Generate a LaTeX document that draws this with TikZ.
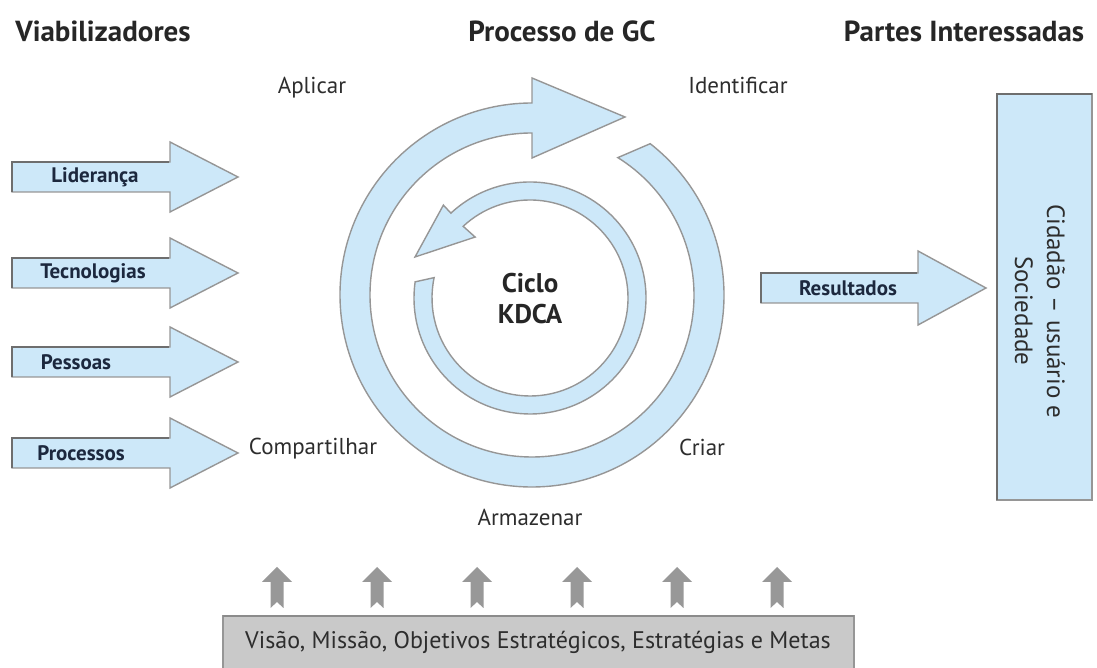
\documentclass[tikz,border=0pt]{standalone}
\usepackage{fontspec}
\setmainfont{PT Sans}
\definecolor{paleblue}{RGB}{205,232,249}
\definecolor{edgegray}{RGB}{150,150,150}
\definecolor{shadegray}{RGB}{110,110,110}
\definecolor{pointergray}{RGB}{152,152,152}
\definecolor{basegray}{RGB}{201,201,201}
\definecolor{inktext}{RGB}{45,45,45}
\definecolor{navyink}{RGB}{28,40,62}
\begin{document}
\begin{tikzpicture}[x=1pt,y=1pt,
  blockshape/.style={fill=paleblue,draw=edgegray,line width=1.4pt,line join=miter},
  shadeedge/.style={draw=shadegray,line width=2.2pt},
  heading/.style={font=\fontsize{29}{32}\selectfont\bfseries,text=black!85},
  steplabel/.style={font=\fontsize{23}{26}\selectfont,text=inktext},
  tag/.style={font=\fontsize{21}{23}\selectfont\bfseries,text=navyink},
  pointer/.style={fill=pointergray,draw=none}]
\useasboundingbox (0,0) rectangle (1097,668);

% column headings
\node[heading] (hviab) at (103,637) {Viabilizadores};
\node[heading] (hproc) at (562,637) {Processo de GC};
\node[heading] (hpart) at (964,637) {Partes Interessadas};

% enablers: block arrows pointing into the cycle
\foreach \yy/\lx/\name/\txt in {491/95/lid/Liderança, 395/93/tec/Tecnologias, 306/76/pes/Pessoas, 215/81/prc/Processos}{
  \draw[blockshape] (12,\yy+15) -- (170,\yy+15) -- (170,\yy+35) -- (238,\yy)
        -- (170,\yy-35) -- (170,\yy-15) -- (12,\yy-15) -- cycle;
  \draw[shadeedge] (12,\yy-15) -- (12,\yy+15) -- (169,\yy+15);
  \node[tag] (\name) at (\lx,\yy) {\txt};
}

% outer ring: clockwise arrow of the knowledge process
\begin{scope}[shift={(532,373)}]
  \draw[blockshape] (52:192) arc[start angle=52,end angle=-270,radius=192]
        -- (0,217) -- (93,178) -- (0,137) -- (0,162)
        arc[start angle=-270,end angle=58,radius=162] -- cycle;
\end{scope}

% inner ring: counter-clockwise KDCA arrow
\begin{scope}[shift={(530,370)}]
  \draw[blockshape] (172:116) arc[start angle=172,end angle=493,radius=116]
        -- (133:127) -- (-115,41) -- (132:82) -- (133:98)
        arc[start angle=493,end angle=168,radius=98] -- cycle;
\end{scope}

% cycle centre text
\node[font=\fontsize{27}{30}\selectfont\bfseries,text=black!85,align=center] (kdca) at (530,369) {Ciclo\\[1pt]KDCA};

% step labels around the cycle
\node[steplabel] (aplicar) at (312,580) {Aplicar};
\node[steplabel] (ident) at (738,582) {Identificar};
\node[steplabel] (compart) at (313,219) {Compartilhar};
\node[steplabel] (criar) at (702,221) {Criar};
\node[steplabel] (armaz) at (530,151) {Armazenar};

% results arrow
\draw[blockshape] (761,395) -- (918,395) -- (918,417) -- (986,380)
      -- (918,343) -- (918,365) -- (761,365) -- cycle;
\draw[shadeedge] (761,365) -- (761,395) -- (917,395);
\node[tag] (result) at (848,380) {Resultados};

% stakeholders box
\draw[blockshape] (997,168) rectangle (1092,574);
\draw[shadeedge] (997,168) -- (997,574) -- (1092,574);
\node[font=\fontsize{25}{32}\selectfont,text=inktext,rotate=-90,align=center] (cidadao) at (1040,357)
  {Cidadão – usuário e\\Sociedade};

% strategic base and its upward pointers
\draw[fill=basegray,draw=edgegray,line width=1.4pt] (223,-10) rectangle (854,52);
\draw[draw=shadegray!80,line width=1.6pt] (223,52) -- (854,52);
\node[font=\fontsize{24}{28}\selectfont,text=inktext] (base) at (538,26)
  {Visão, Missão, Objetivos Estratégicos, Estratégias e Metas};
\foreach \px in {277,377,477,577,677,777}{
  \fill[pointer] (\px,101) -- (\px+15,86) -- (\px+6.5,86) -- (\px+6.5,60)
        -- (\px,66) -- (\px-6.5,60) -- (\px-6.5,86) -- (\px-15,86) -- cycle;
}
\end{tikzpicture}
\end{document}
